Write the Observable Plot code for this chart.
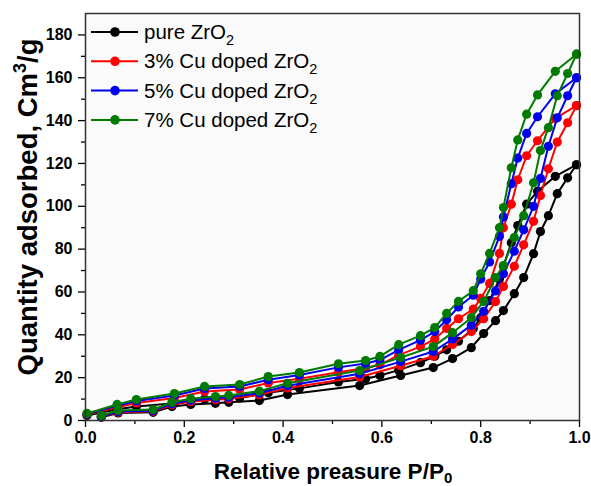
<!DOCTYPE html>
<html><head><meta charset="utf-8">
<script src="https://cdn.jsdelivr.net/npm/d3@7"></script>
<script src="https://cdn.jsdelivr.net/npm/@observablehq/plot@0.6"></script>
<style>
body{margin:0;background:#fff}
#chart svg{font-family:"Liberation Sans",Arial,sans-serif}
</style>
</head><body><div id="chart"></div>
<script>
// Series
const seriesNames = ["pure ZrO2", "3% Cu doped ZrO2", "5% Cu doped ZrO2", "7% Cu doped ZrO2"];
const seriesLabels = ["pure ZrO", "3% Cu doped ZrO", "5% Cu doped ZrO", "7% Cu doped ZrO"];
const seriesColors = ["#000000", "#ff0000", "#0000ee", "#007a00"];

// Relative pressure points, adsorption branch
const pAds = [0.032, 0.066, 0.137, 0.175, 0.213, 0.263, 0.290, 0.352, 0.409, 0.555, 0.638, 0.704, 0.743, 0.781, 0.806, 0.830, 0.846, 0.868, 0.887, 0.907, 0.921, 0.937, 0.955, 0.976, 0.994];
// Relative pressure points, desorption branch
const pDes = [0.994, 0.951, 0.915, 0.893, 0.875, 0.862, 0.846, 0.838, 0.818, 0.800, 0.785, 0.755, 0.731, 0.707, 0.678, 0.634, 0.596, 0.567, 0.512, 0.433, 0.370, 0.312, 0.241, 0.180, 0.103, 0.064, 0.003];

// Quantity adsorbed (cm3/g), adsorption branch
const adsPure = [1.5, 3.5, 3.8, 6.5, 7.5, 8.0, 8.5, 9.3, 12.1, 16.3, 21.0, 24.7, 28.9, 34.0, 40.6, 46.6, 51.3, 59.2, 66.7, 77.9, 88.2, 95.6, 105.9, 113.3, 119.4];
const ads3 = [1.8, 3.9, 4.3, 7.3, 8.8, 9.7, 10.1, 12.0, 15.2, 20.3, 25.6, 30.0, 35.5, 41.5, 47.5, 55.5, 62.5, 72.0, 82.0, 93.0, 105.0, 117.5, 130.0, 139.0, 147.0];
const ads5 = [2.0, 4.2, 4.6, 7.8, 9.4, 10.4, 10.8, 12.8, 16.2, 21.8, 27.5, 32.2, 38.0, 44.5, 51.0, 60.5, 68.5, 79.0, 89.0, 100.0, 113.0, 128.0, 141.3, 151.6, 160.0];
const ads7 = [2.3, 4.7, 5.1, 8.5, 10.2, 11.2, 11.7, 13.7, 17.4, 23.3, 29.4, 34.5, 41.0, 48.0, 55.6, 66.7, 72.3, 85.4, 95.6, 111.0, 126.0, 136.7, 151.6, 162.0, 171.0];

// Quantity adsorbed (cm3/g), desorption branch
const desPure = [119.4, 114.0, 107.0, 101.0, 91.0, 83.0, 72.0, 66.0, 56.0, 48.0, 43.0, 37.0, 33.0, 30.0, 27.0, 23.5, 21.0, 19.5, 18.0, 15.0, 13.0, 10.5, 10.0, 8.0, 6.5, 5.3, 2.3];
const des3 = [147.0, 141.0, 130.6, 123.6, 112.4, 101.0, 90.0, 78.0, 64.0, 57.0, 52.0, 47.5, 43.0, 38.0, 34.5, 30.5, 26.0, 24.5, 22.5, 19.5, 17.5, 14.5, 13.5, 10.5, 8.2, 6.2, 2.8];
const des5 = [160.0, 152.5, 141.8, 134.0, 122.5, 110.5, 95.0, 86.0, 74.0, 66.0, 58.5, 53.0, 47.0, 41.5, 37.5, 33.0, 28.2, 26.6, 24.8, 21.2, 19.0, 15.9, 14.9, 11.7, 9.1, 6.9, 3.0];
const des7 = [171.0, 163.0, 152.0, 143.0, 131.0, 118.0, 99.4, 90.0, 78.0, 68.5, 60.6, 55.6, 50.0, 43.4, 39.6, 35.4, 29.9, 28.0, 26.5, 22.4, 20.5, 16.8, 15.9, 12.6, 9.8, 7.5, 3.3];

// Axis ticks
const xMajor = [0, 0.2, 0.4, 0.6, 0.8, 1.0];
const xMinor = [0.1, 0.3, 0.5, 0.7, 0.9];
const yMajor = [0, 20, 40, 60, 80, 100, 120, 140, 160, 180];
const yMinor = [10, 30, 50, 70, 90, 110, 130, 150, 170];

const adsAll = [adsPure, ads3, ads5, ads7];
const desAll = [desPure, des3, des5, des7];

const rows = [];
seriesNames.forEach((name, i) => {
  pAds.forEach((p, j) => rows.push({series: name, branch: "ads", p, q: adsAll[i][j]}));
  pDes.forEach((p, j) => rows.push({series: name, branch: "des", p, q: desAll[i][j]}));
});

const marks = [
  Plot.frame({fill: "#fafafa", stroke: "none"}),
  Plot.axisX(xMajor, {tickSize: 7, tickPadding: 4, tickFormat: d3.format(".1f"), fontSize: 16, fontWeight: "bold", label: null, strokeWidth: 1.3}),
  Plot.axisX(xMinor, {tickSize: 4, tickFormat: () => "", label: null, strokeWidth: 1.3}),
  Plot.axisY(yMajor, {tickSize: 7, tickPadding: 6, tickFormat: d3.format("d"), fontSize: 16, fontWeight: "bold", label: null, strokeWidth: 1.3}),
  Plot.axisY(yMinor, {tickSize: 4, tickFormat: () => "", label: null, strokeWidth: 1.3})
];
seriesNames.forEach((name) => {
  const sub = rows.filter(d => d.series === name);
  marks.push(Plot.line(sub, {x: "p", y: "q", z: "branch", stroke: "series", strokeWidth: 2}));
  marks.push(Plot.dot(sub, {x: "p", y: "q", fill: "series", r: 4.6, stroke: "none"}));
});
marks.push(Plot.frame({stroke: "#333", strokeWidth: 1.5}));

const chart = Plot.plot({
  width: 591,
  height: 486,
  marginLeft: 85,
  marginRight: 12,
  marginTop: 13,
  marginBottom: 66,
  style: {fontFamily: "'Liberation Sans', Arial, sans-serif", background: "#ffffff", color: "#000"},
  x: {domain: [0, 1], label: null},
  y: {domain: [0, 190], label: null},
  color: {domain: seriesNames, range: seriesColors},
  marks
});

const svg = d3.select(chart);
// Axis titles
const xt = svg.append("text")
  .attr("x", 333).attr("y", 479)
  .attr("text-anchor", "middle")
  .attr("font-size", 22.5).attr("font-weight", "bold").attr("fill", "#000");
xt.append("tspan").text("Relative preasure P/P");
xt.append("tspan").attr("font-size", 15).attr("dy", 4).text("0");

const yt = svg.append("text")
  .attr("transform", "translate(37,207) rotate(-90)")
  .attr("text-anchor", "middle")
  .attr("font-size", 27.5).attr("font-weight", "bold").attr("fill", "#000");
yt.append("tspan").text("Quantity adsorbed, Cm");
yt.append("tspan").attr("font-size", 18).attr("dy", -11).text("3");
yt.append("tspan").attr("dy", 11).text("/g");

// Legend
const lg = svg.append("g");
seriesLabels.forEach((lab, i) => {
  const y = 32 + i * 29.3;
  lg.append("line").attr("x1", 91).attr("x2", 138).attr("y1", y).attr("y2", y)
    .attr("stroke", seriesColors[i]).attr("stroke-width", 2);
  lg.append("circle").attr("cx", 115).attr("cy", y).attr("r", 4.8).attr("fill", seriesColors[i]);
  const t = lg.append("text").attr("x", 144).attr("y", y + 7)
    .attr("text-anchor", "start")
    .attr("font-size", 20.5).attr("fill", "#000");
  t.append("tspan").text(lab);
  t.append("tspan").attr("font-size", 14.5).attr("dy", 6).text("2");
});

document.getElementById("chart").appendChild(chart);
</script>
</body></html>
